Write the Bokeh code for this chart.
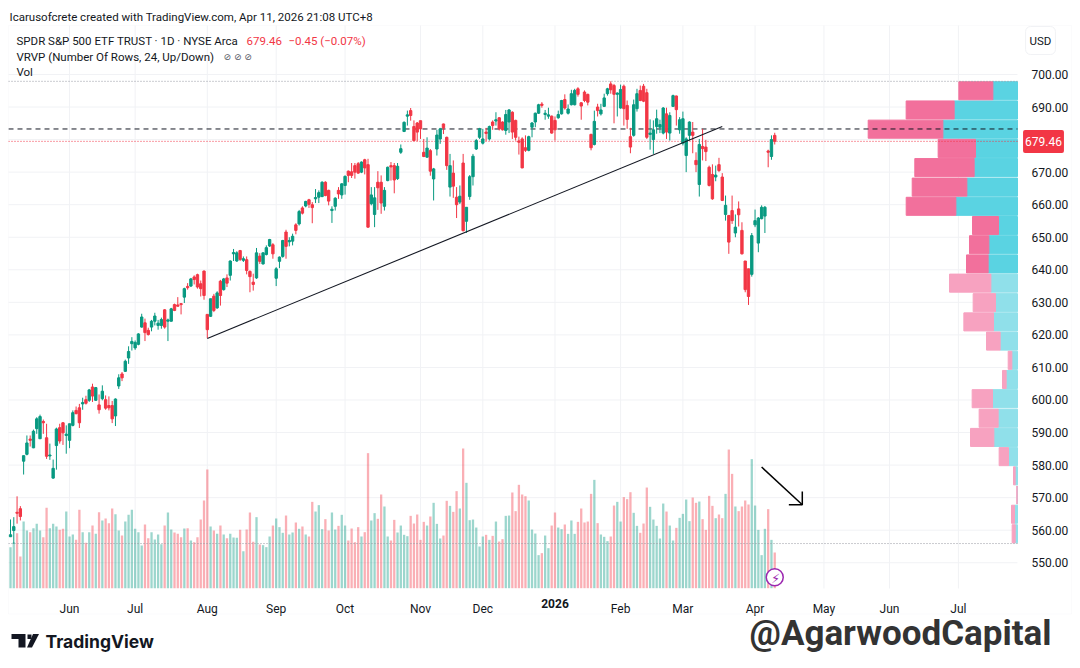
import numpy as np
from bokeh.embed import file_html
from bokeh.models import (
    BoxAnnotation,
    ColumnDataSource,
    FixedTicker,
    Label,
    PolyAnnotation,
    Range1d,
)
from bokeh.plotting import figure
from bokeh.resources import INLINE

# daily SPY candles, first bar is May 6 2025
opens = [
    558.0, 559.9, 565.5, 566.6, 581.2, 583.3, 588.0, 585.3, 591.2, 588.1,
    593.4, 588.4, 582.8, 576.0, 586.0, 591.5, 593.0, 589.1, 587.6, 592.2,
    596.8, 597.6, 598.8, 600.1, 599.9, 604.0, 599.9, 598.5, 600.4, 600.1,
    598.3, 598.3, 595.1, 604.3, 608.0, 608.8, 612.9, 617.3, 616.0, 617.1,
    622.4, 623.7, 621.4, 622.4, 624.2, 622.9, 622.9, 627.7, 624.2, 624.2,
    629.3, 629.2, 629.6, 631.6, 634.9, 635.0, 637.8, 638.5, 635.7, 639.6,
    626.3, 625.7, 631.9, 628.3, 636.5, 633.9, 637.5, 638.3, 644.9, 642.7,
    645.9, 642.9, 643.1, 639.5, 636.2, 637.5, 644.2, 641.8, 644.7, 647.3,
    647.7, 637.4, 642.6, 644.1, 651.6, 648.6, 648.8, 653.8, 654.1, 659.0,
    659.6, 661.5, 660.0, 661.8, 662.3, 662.5, 666.9, 664.4, 658.2, 659.5,
    664.4, 663.0, 665.9, 670.3, 670.1, 672.0, 672.6, 670.0, 673.8, 672.3,
    660.3, 657.0, 666.9, 666.9, 659.5, 667.4, 672.0, 672.0, 668.0, 676.1,
    682.5, 687.2, 688.9, 684.0, 685.1, 685.8, 676.1, 674.6, 676.6, 667.9,
    677.1, 680.2, 684.8, 680.7, 665.4, 669.7, 662.3, 660.8, 672.8, 654.9,
    662.5, 668.6, 677.1, 680.7, 678.9, 682.3, 680.2, 685.4, 685.7, 686.7,
    685.4, 682.8, 685.4, 688.4, 685.9, 679.6, 680.2, 677.5, 676.7, 683.8,
    685.4, 688.1, 690.9, 687.7, 687.2, 687.2, 685.9, 686.7, 687.9, 692.3,
    688.1, 690.7, 690.7, 695.6, 691.3, 694.6, 693.9, 681.6, 678.5, 690.0,
    687.9, 690.2, 694.1, 697.1, 696.6, 693.9, 689.7, 696.4, 690.5, 680.9,
    681.3, 689.5, 695.1, 696.4, 694.4, 681.6, 680.0, 684.0, 683.8, 682.0,
    687.9, 682.0, 690.2, 693.4, 683.0, 678.9, 675.1, 681.3, 682.3, 673.6,
    666.2, 677.9, 677.7, 671.5, 669.3, 668.5, 672.3, 668.5, 657.0, 656.7,
    658.2, 651.3, 658.7, 652.1, 642.7, 640.3, 638.6, 653.8, 648.2, 655.7,
    656.5, 676.5, 674.8, 681.3,
]
highs = [
    563.3, 564.0, 570.4, 567.4, 582.9, 589.1, 589.1, 590.9, 594.7, 595.5,
    594.0, 592.7, 586.6, 581.7, 591.5, 592.7, 593.2, 592.2, 592.7, 596.8,
    598.0, 598.8, 600.7, 601.3, 603.4, 605.0, 604.0, 601.7, 604.5, 601.4,
    601.1, 599.7, 600.5, 607.9, 608.6, 612.4, 616.5, 619.3, 618.3, 620.5,
    626.5, 625.0, 622.2, 624.6, 626.8, 624.6, 625.3, 627.9, 625.0, 628.3,
    629.6, 631.6, 629.8, 634.5, 635.9, 637.5, 638.3, 638.8, 636.7, 639.8,
    626.3, 631.1, 632.6, 633.4, 636.9, 637.5, 638.6, 642.9, 646.4, 645.7,
    646.1, 644.1, 644.1, 639.8, 638.8, 646.7, 645.1, 645.4, 647.5, 649.5,
    648.2, 640.8, 644.1, 649.2, 652.3, 650.0, 651.1, 654.3, 658.4, 659.5,
    661.2, 661.8, 660.8, 664.8, 664.4, 667.2, 667.2, 664.6, 659.5, 662.3,
    665.4, 666.6, 669.0, 670.5, 672.8, 672.8, 673.1, 673.3, 674.1, 674.1,
    665.4, 665.4, 670.3, 669.0, 665.4, 671.7, 673.1, 672.8, 672.8, 678.5,
    685.6, 688.9, 689.7, 685.9, 685.4, 685.8, 680.2, 680.7, 677.1, 671.3,
    683.0, 683.6, 684.9, 680.9, 675.6, 673.6, 665.4, 665.9, 675.6, 659.2,
    669.1, 675.6, 680.2, 683.6, 683.3, 683.6, 684.3, 685.9, 688.4, 686.9,
    685.6, 689.1, 689.4, 688.7, 686.1, 680.9, 680.7, 681.3, 681.2, 685.4,
    688.3, 691.0, 691.5, 689.1, 689.8, 687.4, 687.1, 688.9, 692.2, 693.9,
    690.8, 695.3, 695.6, 696.1, 691.5, 695.1, 694.1, 681.8, 688.9, 691.0,
    691.0, 694.1, 695.9, 697.9, 697.1, 694.5, 696.9, 696.9, 692.0, 683.6,
    692.3, 695.6, 696.6, 697.1, 695.6, 686.2, 685.9, 689.2, 686.1, 690.0,
    689.8, 688.4, 693.8, 693.5, 686.9, 688.6, 680.7, 685.6, 685.4, 676.1,
    680.2, 683.3, 679.9, 672.0, 672.4, 672.0, 674.4, 669.7, 662.8, 656.7,
    662.8, 657.0, 661.0, 654.6, 642.7, 640.3, 651.3, 658.5, 656.2, 659.8,
    659.6, 676.9, 681.3, 682.1,
]
lows = [
    557.9, 555.8, 562.0, 563.0, 577.1, 583.0, 585.7, 585.2, 589.6, 588.0,
    589.6, 581.9, 581.6, 575.8, 578.6, 586.6, 586.2, 583.5, 585.2, 591.9,
    595.6, 591.4, 597.0, 598.6, 599.4, 599.4, 599.7, 595.8, 599.9, 597.0,
    596.8, 592.9, 592.0, 603.4, 605.8, 608.6, 611.1, 615.2, 615.4, 616.8,
    622.2, 618.1, 619.8, 621.1, 622.9, 621.6, 621.9, 621.9, 618.1, 624.1,
    627.3, 628.7, 626.3, 629.8, 633.9, 634.7, 635.5, 634.2, 631.8, 630.8,
    619.0, 625.5, 627.0, 628.0, 629.0, 633.6, 634.7, 636.7, 642.7, 642.4,
    642.7, 642.4, 638.6, 633.1, 633.6, 637.2, 641.8, 641.6, 644.4, 647.0,
    643.4, 635.0, 640.5, 643.7, 643.4, 647.2, 647.5, 650.9, 653.6, 657.0,
    659.2, 659.0, 654.3, 660.5, 660.5, 662.3, 662.6, 659.8, 654.4, 658.2,
    661.8, 661.8, 663.1, 666.9, 668.2, 668.0, 669.5, 669.7, 669.3, 652.9,
    659.8, 653.1, 658.4, 657.2, 658.2, 667.2, 667.4, 663.5, 667.6, 675.6,
    682.3, 684.3, 685.8, 679.5, 679.5, 680.2, 674.6, 674.4, 668.9, 661.3,
    675.1, 678.7, 681.7, 670.7, 662.5, 662.1, 655.9, 660.2, 651.8, 651.3,
    661.5, 665.9, 676.8, 680.2, 678.5, 679.5, 679.7, 683.0, 684.3, 682.8,
    682.8, 681.5, 682.0, 680.2, 679.7, 675.4, 671.2, 676.2, 676.4, 680.7,
    683.8, 687.9, 689.8, 686.1, 686.4, 681.8, 679.7, 686.4, 687.7, 689.2,
    687.7, 690.5, 690.5, 693.2, 686.1, 691.5, 690.5, 676.7, 678.2, 687.1,
    687.4, 690.0, 693.5, 694.1, 685.0, 687.1, 689.5, 684.3, 683.3, 675.8,
    680.9, 688.6, 691.8, 691.5, 680.2, 676.9, 675.6, 681.8, 682.0, 681.6,
    680.2, 679.7, 690.0, 684.3, 681.8, 678.2, 670.0, 679.7, 675.8, 670.0,
    662.5, 673.6, 673.4, 665.6, 661.5, 667.2, 670.0, 661.1, 655.1, 644.9,
    654.1, 650.0, 653.3, 644.7, 633.1, 629.2, 637.9, 653.1, 645.4, 655.5,
    651.3, 671.5, 673.8, 678.5,
]
closes = [
    558.6, 561.1, 565.2, 564.2, 582.9, 586.8, 587.6, 590.4, 594.2, 594.9,
    593.0, 582.7, 583.1, 579.0, 591.1, 587.4, 589.9, 589.5, 592.7, 596.1,
    595.8, 593.0, 599.2, 599.0, 603.1, 601.2, 603.8, 597.0, 602.7, 597.5,
    597.6, 594.2, 600.3, 606.8, 606.8, 611.9, 614.9, 618.0, 617.7, 620.3,
    625.5, 620.7, 620.1, 624.2, 625.8, 623.6, 624.7, 622.4, 624.6, 628.0,
    627.5, 628.8, 629.3, 634.2, 634.5, 637.2, 637.0, 634.7, 634.2, 632.1,
    621.6, 631.1, 627.5, 632.9, 632.1, 637.2, 635.9, 642.7, 645.3, 645.2,
    643.2, 643.4, 639.8, 637.9, 635.5, 645.2, 642.6, 645.2, 646.8, 649.3,
    644.9, 640.3, 643.9, 649.0, 647.2, 649.0, 650.3, 652.1, 657.9, 657.4,
    661.0, 660.1, 659.1, 662.2, 663.7, 666.9, 662.8, 661.1, 658.6, 662.0,
    663.3, 666.4, 668.7, 669.0, 669.0, 670.0, 669.7, 673.1, 671.3, 653.1,
    663.0, 662.1, 665.2, 660.5, 664.4, 671.5, 671.6, 667.6, 671.8, 677.2,
    685.3, 687.6, 687.4, 679.7, 682.3, 683.3, 674.8, 677.4, 670.3, 671.0,
    681.4, 683.3, 683.6, 672.0, 672.0, 665.7, 660.0, 662.6, 652.0, 659.2,
    668.6, 674.9, 679.7, 683.3, 680.2, 681.9, 684.0, 684.3, 686.1, 683.3,
    683.0, 687.7, 689.1, 682.3, 680.7, 679.2, 671.3, 676.7, 680.9, 685.1,
    688.1, 690.7, 690.5, 688.1, 687.6, 682.0, 683.0, 687.7, 692.0, 689.7,
    689.4, 694.1, 695.1, 693.9, 690.3, 692.0, 691.5, 677.5, 685.6, 688.9,
    689.1, 692.8, 695.6, 695.3, 693.9, 694.3, 695.4, 689.5, 686.2, 677.7,
    690.7, 694.1, 692.0, 691.8, 680.7, 682.0, 683.0, 686.4, 684.6, 689.7,
    682.3, 687.4, 693.5, 689.2, 686.1, 686.4, 680.2, 685.4, 681.3, 672.3,
    678.5, 677.2, 676.3, 665.9, 661.8, 669.1, 670.5, 661.3, 659.8, 648.5,
    655.1, 653.1, 656.9, 644.9, 633.9, 631.8, 650.5, 655.1, 655.9, 659.2,
    659.2, 676.1, 680.0, 679.46,
]
# volume in millions of shares
volumes = [
    51.2, 57.5, 68.8, 39.6, 83.3, 72.1, 70.0, 75.0, 80.4, 72.1,
    63.8, 100.4, 75.0, 80.4, 77.1, 72.9, 74.2, 95.8, 64.6, 67.1,
    60.4, 97.9, 70.0, 56.7, 70.0, 78.3, 67.9, 95.0, 84.6, 87.1,
    81.3, 99.6, 92.5, 72.1, 65.8, 83.3, 91.7, 97.9, 74.2, 70.0,
    53.3, 79.6, 62.5, 70.0, 60.8, 67.1, 55.0, 78.3, 94.6, 73.3,
    69.6, 67.9, 63.8, 74.6, 75.0, 59.6, 57.5, 63.8, 85.8, 109.6,
    148.3, 77.1, 72.1, 67.9, 78.3, 67.1, 62.5, 67.9, 63.3, 62.9,
    72.9, 46.3, 73.3, 94.6, 57.9, 88.8, 54.6, 53.8, 51.3, 64.6,
    78.3, 87.1, 76.3, 69.2, 90.8, 67.1, 69.6, 82.1, 74.2, 77.1,
    67.1, 64.6, 107.9, 95.8, 103.8, 73.8, 86.3, 72.1, 94.6, 73.3,
    77.9, 91.7, 78.3, 59.6, 74.6, 57.5, 76.3, 64.6, 70.0, 168.8,
    84.6, 93.8, 86.7, 117.1, 102.1, 64.6, 59.6, 85.4, 69.6, 78.3,
    66.7, 65.0, 90.4, 80.8, 92.1, 60.4, 82.9, 78.3, 89.6, 106.7,
    80.4, 62.1, 65.8, 109.2, 102.9, 95.4, 121.3, 99.6, 174.6, 131.7,
    85.0, 85.8, 75.8, 52.1, 64.6, 66.7, 60.4, 65.4, 83.3, 58.3,
    61.3, 90.4, 90.8, 119.6, 96.3, 129.2, 117.1, 115.0, 109.6, 73.3,
    68.3, 41.3, 43.8, 65.8, 50.0, 78.3, 94.6, 75.8, 73.8, 79.6,
    67.9, 84.6, 67.9, 82.9, 99.6, 82.1, 83.3, 117.9, 135.4, 81.3,
    67.1, 64.2, 58.8, 64.6, 103.3, 107.9, 83.3, 113.8, 111.3, 120.0,
    94.2, 77.9, 69.2, 80.8, 125.8, 101.7, 85.8, 77.9, 62.1, 105.8,
    95.8, 78.3, 59.6, 75.4, 87.9, 92.9, 110.8, 83.8, 113.3, 106.7,
    108.3, 86.3, 72.9, 115.4, 102.9, 87.5, 92.1, 87.5, 117.9, 173.3,
    142.9, 102.1, 96.3, 102.1, 109.6, 104.6, 161.3, 103.3, 72.9, 41.3,
    74.2, 98.8, 60.4, 44.6,
]

# visible range volume profile, top row first
vp_prices = [
    695.0, 689.1, 683.2, 677.3, 671.4, 665.4, 659.5, 653.6, 647.7, 641.8, 635.9, 629.9,
    624.0, 618.1, 612.2, 606.3, 600.4, 594.4, 588.5, 582.6, 576.7, 570.8, 564.9, 558.9,
]
vp_up = [
    493, 1267, 1493, 840, 867, 1013, 1233, 380, 573, 587, 533, 440,
    480, 347, 113, 227, 500, 387, 473, 180, 47, 7, 60, 47,
]
vp_down = [
    680, 960, 1493, 747, 1187, 1093, 993, 520, 387, 433, 827, 447,
    593, 273, 73, 73, 407, 380, 467, 187, 33, 7, 60, 60,
]
vp_value_area_rows = 10

price_ticks = [
    550, 560, 570, 580, 590, 600, 610, 620, 630, 640, 650, 660, 670, 690, 700,
]
price_grid = [
    550, 560, 570, 580, 590, 600, 610, 620, 630, 640, 650, 660, 670, 680, 690, 700,
]
month_ticks = [18, 38, 60, 81, 102, 125, 144, 166, 186, 205, 227, 248, 268, 289]
month_labels = [
    "Jun", "Jul", "Aug", "Sep", "Oct", "Nov", "Dec", "",
    "Feb", "Mar", "Apr", "May", "Jun", "Jul",
]

last_price = 679.46
poc_price = 683.26
vp_high = 697.9
vp_low = 555.9
trend_x = [60, 217]
trend_y = [618.9, 684.0]
arrow_x = [229.0, 241.4]
arrow_y = [579.4, 567.8]
arrow_head_x = [237.3, 241.4, 241.4]
arrow_head_y = [567.8, 567.8, 571.9]

UP = "#089981"
DOWN = "#F23645"
TEXT = "#131722"
GRID = "#f1f2f5"

WIDTH = 1076
HEIGHT = 664

# the price pane in data units, the canvas is one big frame around it
PANE_LEFT = -0.61
PANE_RIGHT = 307.0
PANE_TOP = 715.05
PANE_BOTTOM = 542.09


def sy(y):
    return HEIGHT - y


p = figure(
    width=WIDTH,
    height=HEIGHT,
    x_range=Range1d(-3.05, 325.0),
    y_range=Range1d(518.74, 722.73),
    y_axis_location="right",
    toolbar_location=None,
    tools="",
    output_backend="svg",
    min_border=0,
    outline_line_color=None,
)
p.grid.visible = False

p.extra_y_ranges = {"vol": Range1d(-95.4, 734.6)}
p.extra_x_ranges = {"vp": Range1d(20340, -1180)}

p.xaxis.ticker = FixedTicker(ticks=month_ticks)
p.xaxis.major_label_overrides = dict(zip(month_ticks, month_labels))
p.xaxis.fixed_location = PANE_BOTTOM
p.yaxis.ticker = FixedTicker(ticks=price_ticks)
p.yaxis.major_label_overrides = {t: f"{t}.00" for t in price_ticks}
p.yaxis.fixed_location = PANE_RIGHT
for axis in (p.xaxis, p.yaxis):
    axis.axis_line_color = None
    axis.major_tick_line_color = None
    axis.minor_tick_line_color = None
    axis.major_label_text_font = "Roboto"
    axis.major_label_text_font_size = "12px"
    axis.major_label_text_color = TEXT
p.xaxis.major_label_standoff = 8
p.yaxis.major_label_standoff = 8

# grid lines stop at the pane edge
p.segment(
    x0=month_ticks, x1=month_ticks, y0=[PANE_BOTTOM] * len(month_ticks), y1=[PANE_TOP] * len(month_ticks),
    line_color=GRID, line_width=1,
)
p.segment(
    x0=[PANE_LEFT] * len(price_grid), x1=[PANE_RIGHT] * len(price_grid), y0=price_grid, y1=price_grid,
    line_color=GRID, line_width=1,
)

# pane border, runs under the axes
p.add_layout(
    BoxAnnotation(
        left=8, right=1071, top=sy(25), bottom=sy(613.5),
        left_units="screen", right_units="screen", top_units="screen", bottom_units="screen",
        fill_alpha=0, line_color=GRID, line_width=1,
    )
)

# volume profile
vp_pale = [i >= vp_value_area_rows for i in range(len(vp_prices))]
vp_source = ColumnDataSource(
    data=dict(
        y=vp_prices,
        up=vp_up,
        total=np.add(vp_up, vp_down),
        up_color=["#90e0ea" if pale else "#5ad3e2" for pale in vp_pale],
        down_color=["#f7a2c0" if pale else "#f2709c" for pale in vp_pale],
    )
)
p.hbar(y="y", left=0, right="up", height=5.55, color="up_color", x_range_name="vp", source=vp_source)
p.hbar(y="y", left="up", right="total", height=5.55, color="down_color", x_range_name="vp", source=vp_source)

# volume bars
days = np.arange(len(closes))
is_up = np.array(closes) >= np.array(opens)
candle_colors = [UP if up else DOWN for up in is_up]
source = ColumnDataSource(
    data=dict(
        day=days,
        open=opens,
        high=highs,
        low=lows,
        close=closes,
        volume=volumes,
        top=np.maximum(opens, closes),
        bottom=np.minimum(opens, closes),
        color=candle_colors,
    )
)
p.vbar(
    x="day", top="volume", bottom=0, width=0.7, fill_color="color", fill_alpha=0.4,
    line_color=None, y_range_name="vol", source=source,
)

# range of the profile, point of control, last price
for level, color, dash in (
    (vp_high, "#9598a1", [1, 2]),
    (vp_low, "#9598a1", [1, 2]),
    (poc_price, TEXT, [5, 4]),
    (last_price, DOWN, [1, 2]),
):
    p.line([PANE_LEFT, PANE_RIGHT], [level, level], line_color=color, line_dash=dash, line_width=1)

# candles
p.segment(x0="day", y0="low", x1="day", y1="high", color="color", line_width=1, source=source)
p.vbar(x="day", top="top", bottom="bottom", width=0.72, color="color", source=source)

# drawings
p.line(trend_x, trend_y, line_color=TEXT, line_width=1.1)
p.line(arrow_x, arrow_y, line_color="black", line_width=1.5)
p.line(arrow_head_x, arrow_head_y, line_color="black", line_width=1.5)

# flash marker under the last bar
p.scatter([233], [13.75], size=17, fill_color="white", line_color="#9c27b0", line_width=1.5, y_range_name="vol")


def add_text(x, y, text, size=12, color=TEXT, font="Roboto", style="normal", align="left", **kw):
    p.add_layout(
        Label(
            x=x, y=sy(y), x_units="screen", y_units="screen", text=text,
            text_font=font, text_font_size=f"{size}px", text_font_style=style,
            text_color=color, text_align=align, text_baseline="middle", **kw,
        )
    )


add_text(775, 577.5, "⚡", 13, color="#9c27b0", font="DejaVu Sans", align="center")

add_text(9, 16, "Icarusofcrete created with TradingView.com, Apr 11, 2026 21:08 UTC+8", 11.5)
add_text(16, 40, "SPDR S&P 500 ETF TRUST · 1D · NYSE Arca", 11.5)
add_text(246, 40, "679.46", 11.5, color=DOWN)
add_text(288, 40, "−0.45 (−0.07%)", 11.5, color=DOWN)
add_text(16, 56, "VRVP (Number Of Rows, 24, Up/Down)", 11.5)
add_text(223, 56, "⊘  ⊘  ⊘", 9, color="#50535e", font="DejaVu Sans")
add_text(16, 71, "Vol", 11.5)

# bold year tick and the last price tag sit on the axes
add_text(554.5, 603, "2026", 12, style="bold", align="center")
add_text(
    1043, 141, "679.46", 12, color="white", align="center", background_fill_color=DOWN,
    border_radius=2, padding=(2, 7),
)
add_text(
    1040, 40, "USD", 11.5, align="center", border_line_color=GRID, background_fill_color="white",
    border_radius=5, padding=(4, 7),
)

# TradingView logo
for xs, ys in (
    ((11, 25, 25, 18, 18, 11), (633.5, 633.5, 647, 647, 638.5, 638.5)),
    ((32.5, 38.5, 31.5, 26.5), (633.5, 633.5, 647, 647)),
    ((27, 31, 31, 27), (634, 634, 638.5, 638.5)),
):
    p.add_layout(
        PolyAnnotation(
            xs=list(xs), ys=[sy(v) for v in ys], xs_units="screen", ys_units="screen",
            fill_color=TEXT, fill_alpha=1, line_color=TEXT, line_width=0,
        )
    )
add_text(45, 641, "TradingView", 17.5, font="Inter", style="bold")

# watermark
add_text(749, 633, "@AgarwoodCapital", 35, color="#333333", font="Roboto", style="bold")

open("out.html", "w").write(file_html(p, INLINE))
